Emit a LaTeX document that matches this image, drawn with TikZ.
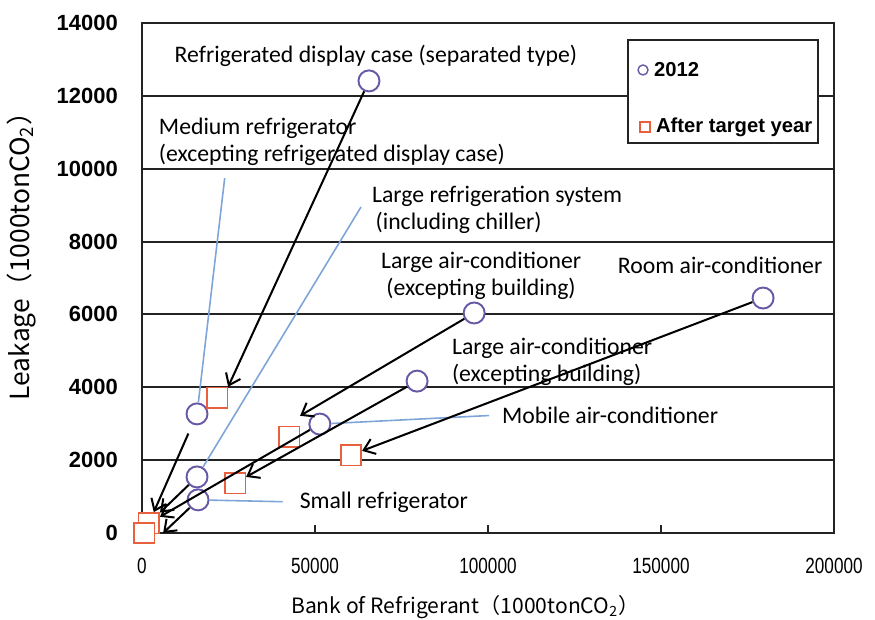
\documentclass[tikz,border=0pt]{standalone}
\usepackage{fontspec}
\setmainfont{Carlito}
\newfontfamily\axisfont{Liberation Sans}
\newfontfamily\jpfont{Noto Sans CJK JP}
\usetikzlibrary{arrows.meta,positioning}

\definecolor{ringcol}{RGB}{105,88,165}
\definecolor{boxcol}{RGB}{232,96,62}
\definecolor{leadcol}{RGB}{125,165,215}
\definecolor{framecol}{RGB}{35,35,35}

\begin{document}
\begin{tikzpicture}[x=0.0692cm,y=0.7286cm,
	ring/.style ={circle, draw=ringcol, fill=white, line width=1.1pt, minimum size=0.42cm, inner sep=0pt},
	sq/.style ={rectangle, draw=boxcol, fill=white, line width=0.9pt, minimum size=0.41cm, inner sep=0pt},
	arr/.style ={-{Straight Barb[length=6pt,width=9pt]}, line width=1.15pt},
	lead/.style ={draw=leadcol, line width=0.9pt},
	grid/.style ={draw=framecol, line width=1.1pt},
	lbl/.style ={font=\fontsize{13.5}{15.5}\selectfont, inner sep=1pt},
	ytick/.style ={font=\axisfont\bfseries\fontsize{12.5}{14}\selectfont, anchor=east, inner sep=0pt},
	xtick/.style ={font=\axisfont\fontsize{12.5}{14}\selectfont, xscale=0.78, inner sep=0pt},
	axtitle/.style ={font=\jpfont\fontsize{12}{14}\selectfont, inner sep=0pt},
	keytxt/.style ={font=\axisfont\bfseries\fontsize{11.5}{13}\selectfont, inner sep=0pt}]
	\useasboundingbox (-41.04,-2.361) rectangle (211.85,14.631);

	% frame, grid and ticks
	\foreach \v in {2,4,...,12}
		\draw[grid] (0,\v) -- (200,\v);
	\draw[grid] (0,0) rectangle (200,14);
	\foreach \v in {50,100,150}
		\draw[grid] (\v,0) -- ++(0,0.22);
	\foreach \n in {0,...,7}
		\node[ytick] (yt\n) at (-6.9,2*\n) {\the\numexpr\n*2000\relax};
	\foreach \v/\t in {0/0,50/50000,100/100000,150/150000,200/200000}
		\node[xtick] (xt\v) at (\v,-0.906) {\t};
	\node[axtitle] (xtitle) at (93.4,-2.03) {Bank of Refrigerant（1000tonCO\textsubscript{2}）};
	\node[axtitle, font=\jpfont\fontsize{15}{17}\selectfont, rotate=90] (ytitle) at (-34.9,7.77) {Leakage（1000tonCO\textsubscript{2}）};

	% legend
	\node[draw=framecol, fill=white, line width=1pt, minimum width=3.8cm, minimum height=2.06cm] (legend) at (167.9,12.12) {};
	\node[ring, minimum size=0.2cm, line width=0.8pt] (key-ring) at (144.8,12.71) {};
	\node[keytxt, right=0.1cm of key-ring] (key-2012) {2012};
	\node[sq, minimum size=0.2cm, line width=0.8pt] (key-sq) at (145.4,11.14) {};
	\node[keytxt, right=0.1cm of key-sq] (key-after) {After target year};

	% labels
	\node[lbl] (l-display) at (67.6,13.09) {Refrigerated display case (separated type)};
	\node[lbl, anchor=west, align=left] (l-medium) at (4.3,10.73) {Medium refrigerator\\(excepting refrigerated display case)};
	\node[lbl, anchor=west, align=left] (l-large) at (65.9,8.88) {Large refrigeration system\\\hspace{2pt}(including chiller)};
	\node[lbl, align=center] (l-lac1) at (98.0,7.05) {Large air-conditioner\\(excepting building)};
	\node[lbl] (l-room) at (167.1,7.36) {Room air-conditioner};
	\node[lbl, anchor=west, align=left] (l-lac2) at (89.0,4.69) {Large air-conditioner\\(excepting building)};
	\node[lbl] (l-mobile) at (135.3,3.24) {Mobile air-conditioner};
	\node[lbl] (l-small) at (69.9,0.85) {Small refrigerator};

	% 2012
	\node[ring] (c1) at (65.6,12.41) {};
	\node[ring] (c2) at (96.0,6.04) {};
	\node[ring] (c3) at (179.5,6.45) {};
	\node[ring] (c4) at (79.5,4.17) {};
	\node[ring] (c5) at (51.4,2.99) {};
	\node[ring] (c6) at (15.9,3.27) {};
	\node[ring] (c7) at (15.9,1.54) {};
	\node[ring] (c8) at (16.2,0.91) {};

	% after target year
	\node[sq] (s1) at (21.7,3.71) {};
	\node[sq] (s2) at (42.5,2.64) {};
	\node[sq] (s3) at (60.4,2.14) {};
	\node[sq] (s4) at (26.9,1.37) {};
	\node[sq] (s5) at (2.0,0.27) {};
	\node[sq] (s6) at (0.6,0.0) {};

	% leaders
	\coordinate (m-foot) at (23.9,9.74);
	\coordinate (r-foot) at (63.3,8.95);
	\draw[lead] (m-foot) -- (c6);
	\draw[lead] (r-foot) -- (c7);
	\draw[lead, shorten >=0.22cm] (c5) -- (l-mobile.west);
	\draw[lead, shorten >=0.3cm] (c8) -- (l-small.west);

	% reductions
	\draw[arr] (c1) -- (s1.north east);
	\draw[arr] (c2) -- ([yshift=0.2cm]s2.north east);
	\draw[arr] (c3) -- (s3);
	\draw[arr] (c4) -- (s4);
	\draw[arr] (c5) -- (s5);
	\draw[arr, shorten <=0.2cm] (c6) -- (s5);
	\draw[arr] (c7) -- (s5);
	\draw[arr] (c8) -- ([xshift=0.16cm]s6.east);
\end{tikzpicture}
\end{document}
